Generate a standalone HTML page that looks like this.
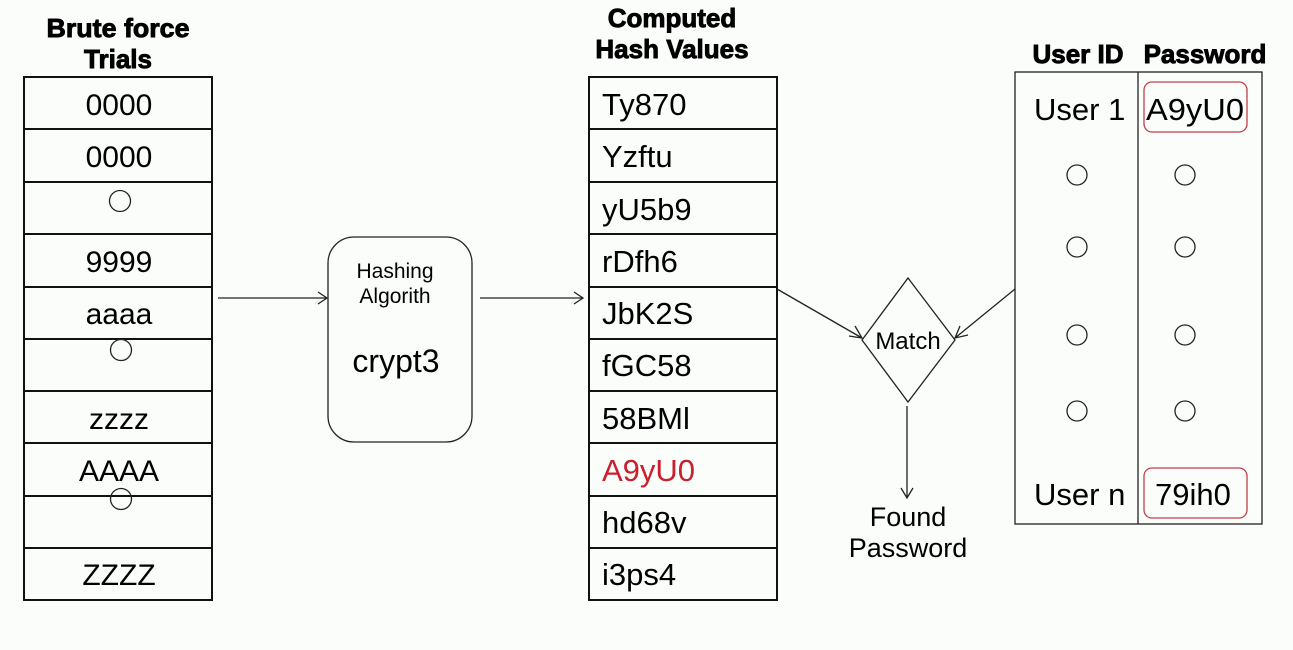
<!DOCTYPE html>
<html><head><meta charset="utf-8"><style>
html,body{margin:0;padding:0;background:#fbfdfb;}
svg{display:block;font-family:"Liberation Sans",Arial,sans-serif;}
</style></head><body>
<svg width="1293" height="650" viewBox="0 0 1293 650" xmlns="http://www.w3.org/2000/svg">
<rect width="1293" height="650" fill="#fbfdfb"/>
<g font-weight="bold" font-size="26" text-anchor="middle" fill="#000" stroke="#000" stroke-width="0.9">
<text x="118" y="37" textLength="143" lengthAdjust="spacingAndGlyphs">Brute force</text>
<text x="118" y="68">Trials</text>
<text x="672" y="27">Computed</text>
<text x="672" y="58">Hash Values</text>
<text x="1078" y="63">User ID</text>
<text x="1205" y="63">Password</text>
</g>
<g fill="none" stroke="#111" stroke-width="2">
<rect x="24" y="77" width="188" height="523"/>
<rect x="589" y="77" width="188" height="523"/>
<path d="M24 129H212M24 182H212M24 234H212M24 287H212M24 339H212M24 391H212M24 443H212M24 496H212M24 548H212"/>
<path d="M589 129H777M589 182H777M589 234H777M589 287H777M589 339H777M589 391H777M589 443H777M589 496H777M589 548H777"/>
</g>
<g fill="none" stroke="#222" stroke-width="1.3">
<circle cx="120" cy="201" r="10.5"/><circle cx="121" cy="350" r="10.5"/><circle cx="121" cy="499" r="10.5"/>
<rect x="328" y="237" width="144" height="205" rx="26"/>
<path d="M218 298H327M318 292L327 298L318 304"/>
<path d="M480 298H583M574 292L583 298L574 304"/>
<path d="M908 278L955 340L908 402L862 340Z"/>
<path d="M777 289L862 338M849 336L862 338L855 326"/>
<path d="M1015 289L955 338M960 326L955 338L968 335"/>
<path d="M907 406V498M901 488L907 498L913 488"/>
<rect x="1015" y="72" width="247" height="452"/>
<path d="M1138 72V524"/>
<circle cx="1077" cy="175" r="10"/><circle cx="1185" cy="175" r="10"/>
<circle cx="1077" cy="247" r="10"/><circle cx="1185" cy="247" r="10"/>
<circle cx="1077" cy="335" r="10"/><circle cx="1185" cy="335" r="10"/>
<circle cx="1077" cy="411" r="10"/><circle cx="1185" cy="411" r="10"/>
</g>
<g fill="none" stroke="#c0404a" stroke-width="1.3">
<rect x="1144" y="82" width="103" height="50" rx="8"/>
<rect x="1144" y="468" width="103" height="50" rx="8"/>
</g>
<g font-size="30" fill="#000" text-anchor="middle">
<text x="119" y="115">0000</text>
<text x="119" y="167">0000</text>
<text x="119" y="272">9999</text>
<text x="119" y="324">aaaa</text>
<text x="119" y="429">zzzz</text>
<text x="119" y="481">AAAA</text>
<text x="119" y="585">ZZZZ</text>
<text x="396" y="372" font-size="32">crypt3</text>
</g>
<g font-size="31" fill="#000">
<text x="602" y="115">Ty870</text>
<text x="602" y="167">Yzftu</text>
<text x="602" y="220">yU5b9</text>
<text x="602" y="272">rDfh6</text>
<text x="602" y="324">JbK2S</text>
<text x="602" y="376">fGC58</text>
<text x="602" y="429">58BMl</text>
<text x="602" y="481" fill="#c8202e">A9yU0</text>
<text x="602" y="533">hd68v</text>
<text x="602" y="585">i3ps4</text>
<text x="1034" y="120">User 1</text>
<text x="1146" y="120" textLength="98" lengthAdjust="spacingAndGlyphs">A9yU0</text>
<text x="1034" y="505">User n</text>
<text x="1155" y="505">79ih0</text>
</g>
<g font-size="21" fill="#000" text-anchor="middle">
<text x="395" y="278">Hashing</text>
<text x="395" y="303">Algorith</text>
</g>
<text x="908" y="349" font-size="24" text-anchor="middle">Match</text>
<g font-size="27" text-anchor="middle">
<text x="908" y="526">Found</text>
<text x="908" y="557">Password</text>
</g>
</svg>
</body></html>
